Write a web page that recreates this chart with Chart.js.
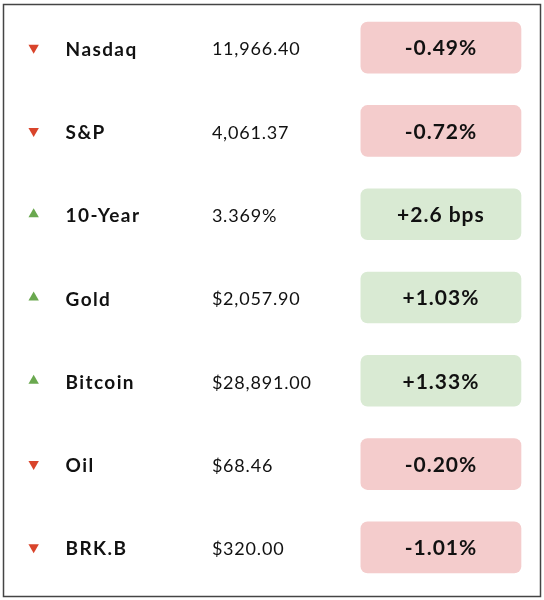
<!DOCTYPE html>
<html>
<head>
<meta charset="utf-8">
<script src="https://cdn.jsdelivr.net/npm/chart.js@4"></script>
<style>
  html, body { margin: 0; padding: 0; background: #fff; }
  #wrap { width: 544px; height: 600px; position: relative; }
</style>
</head>
<body>
<div id="wrap"><canvas id="board"></canvas></div>
<script>
// table data
const names = ['Nasdaq', 'S&P', '10-Year', 'Gold', 'Bitcoin', 'Oil', 'BRK.B']
const prices = ['11,966.40', '4,061.37', '3.369%', '$2,057.90', '$28,891.00', '$68.46', '$320.00']
const changes = [-0.49, -0.72, 2.6, 1.03, 1.33, -0.20, -1.01]
const changeUnits = ['%', '%', ' bps', '%', '%', '%', '%']

const upFill = '#d9ead3'
const downFill = '#f4cccc'
const upArrow = '#6aa84f'
const downArrow = '#d9442b'

// column layout on a 0..100 x scale
const col = { arrow: 5.2, name: 11.2, price: 38.7, boxFrom: 66.7, boxTo: 96.8 }

function fmtChange(v, unit) {
  let s = (v > 0 ? '+' : '') + (unit === '%' ? v.toFixed(2) : v.toFixed(1))
  return s + unit
}

const tableText = {
  id: 'tableText',
  afterDatasetsDraw(chart) {
    const { ctx, scales: { x, y } } = chart
    ctx.save()
    ctx.textBaseline = 'middle'
    ctx.fillStyle = '#111'
    names.forEach((n, i) => {
      const py = y.getPixelForValue(i)
      ctx.font = 'bold 19px Lato'
      ctx.letterSpacing = '1.4px'
      ctx.textAlign = 'left'
      ctx.fillText(n, x.getPixelForValue(col.name), py + 2)
      ctx.font = '18px Lato'
      ctx.letterSpacing = '0.8px'
      ctx.fillText(prices[i], x.getPixelForValue(col.price), py + 2)
      ctx.font = 'bold 21px Lato'
      ctx.letterSpacing = '1px'
      ctx.textAlign = 'center'
      ctx.fillText(fmtChange(changes[i], changeUnits[i]),
        x.getPixelForValue((col.boxFrom + col.boxTo) / 2), py + 1)
    })
    ctx.restore()
    // outer frame
    ctx.save()
    ctx.strokeStyle = '#444'
    ctx.lineWidth = 1.5
    ctx.strokeRect(3.5, 4.5, chart.width - 7, chart.height - 8)
    ctx.restore()
  }
}

const ctx = document.getElementById('board')
new Chart(ctx, {
  type: 'bar',
  data: {
    labels: names,
    datasets: [
      {
        type: 'bar',
        data: changes.map(() => [col.boxFrom, col.boxTo]),
        backgroundColor: changes.map((v) => (v >= 0 ? upFill : downFill)),
        borderRadius: 7,
        borderSkipped: false,
        barThickness: 51,
      },
      {
        type: 'scatter',
        data: changes.map((v, i) => ({ x: col.arrow, y: i })),
        pointStyle: 'triangle',
        pointRadius: 6,
        rotation: changes.map((v) => (v >= 0 ? 0 : 180)),
        backgroundColor: changes.map((v) => (v >= 0 ? upArrow : downArrow)),
        borderWidth: 0,
      },
    ],
  },
  options: {
    indexAxis: 'y',
    responsive: true,
    maintainAspectRatio: false,
    animation: false,
    layout: { padding: { left: 4, right: 5, top: 5, bottom: 11 } },
    plugins: { legend: { display: false }, tooltip: { enabled: false } },
    scales: {
      x: { type: 'linear', min: 0, max: 100, display: false },
      y: { type: 'category', display: false, offset: true },
    },
  },
  plugins: [tableText],
})
</script>
</body>
</html>
